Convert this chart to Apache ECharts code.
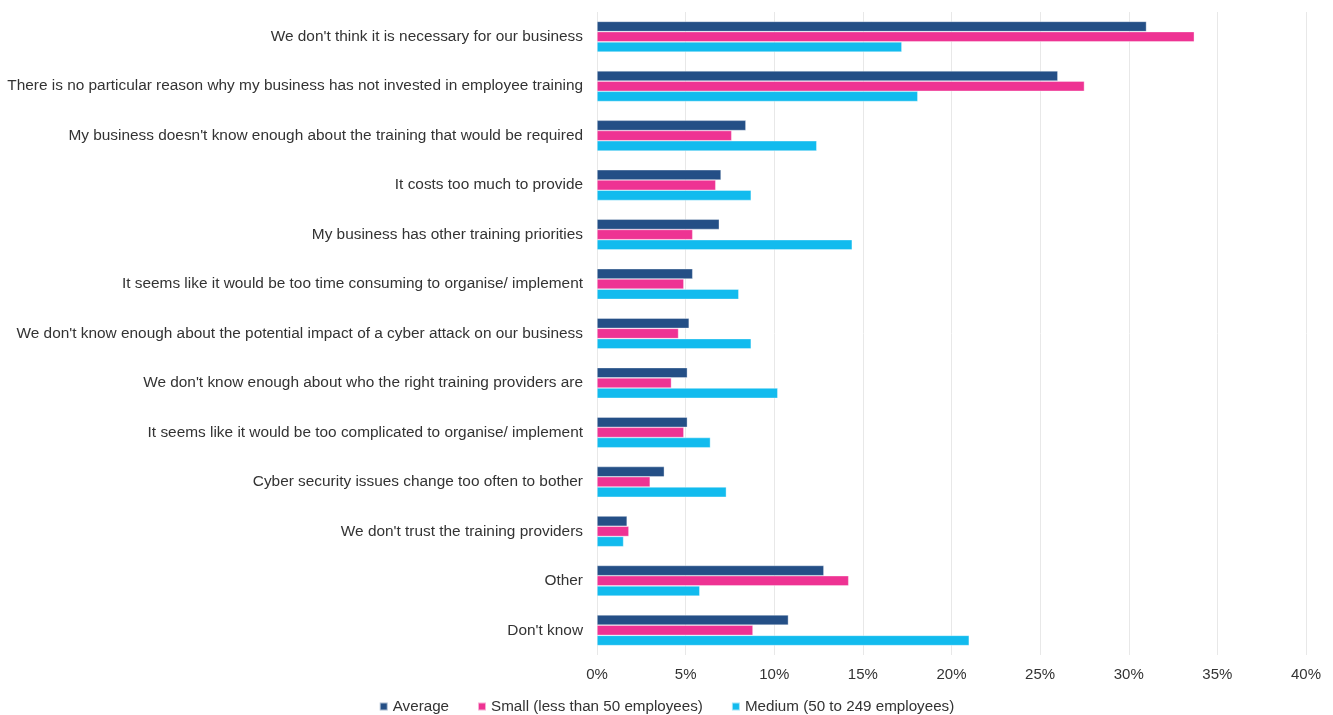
<!DOCTYPE html>
<html>
<head>
<meta charset="utf-8">
<script src="https://cdn.jsdelivr.net/npm/echarts@6/dist/echarts.min.js"></script>
<style>
  html, body { margin: 0; padding: 0; background: #fff; }
  #chart { width: 1333px; height: 715px; }
</style>
</head>
<body>
<div id="chart"></div>
<script>
// Reasons for not investing in cyber security training, by business size (% of businesses)
const categories = [
  "We don't think it is necessary for our business",
  "There is no particular reason why my business has not invested in employee training",
  "My business doesn't know enough about the training that would be required",
  "It costs too much to provide",
  "My business has other training priorities",
  "It seems like it would be too time consuming to organise/ implement",
  "We don't know enough about the potential impact of a cyber attack on our business",
  "We don't know enough about who the right training providers are",
  "It seems like it would be too complicated to organise/ implement",
  "Cyber security issues change too often to bother",
  "We don't trust the training providers",
  "Other",
  "Don't know"
];
const average = [31.0, 26.0, 8.4, 7.0, 6.9, 5.4, 5.2, 5.1, 5.1, 3.8, 1.7, 12.8, 10.8];
const small   = [33.7, 27.5, 7.6, 6.7, 5.4, 4.9, 4.6, 4.2, 4.9, 3.0, 1.8, 14.2, 8.8];
const medium  = [17.2, 18.1, 12.4, 8.7, 14.4, 8.0, 8.7, 10.2, 6.4, 7.3, 1.5, 5.8, 21.0];
const seriesNames = ["Average", "Small (less than 50 employees)", "Medium (50 to 249 employees)"];
const colors = ["#244F86", "#EE3393", "#12BBEE"];

const font = "'Liberation Sans', Arial, sans-serif";
const chart = echarts.init(document.getElementById('chart'));

function bar(name, data, color) {
  return {
    name: name,
    type: 'bar',
    data: data,
    barGap: '0%',
    barCategoryGap: '38%',
    itemStyle: { color: color, borderColor: 'rgba(255,255,255,0.6)', borderWidth: 0.6 }
  };
}

chart.setOption({
  animation: false,
  textStyle: { fontFamily: font },
  grid: { left: 597, right: 27, top: 12, bottom: 60, containLabel: false },
  legend: {
    top: 699,
    left: 'center',
    padding: [0, 5],
    itemWidth: 8,
    itemHeight: 8,
    itemGap: 28,
    icon: 'rect',
    textStyle: { fontSize: 15.2, color: '#333', fontFamily: font },
    data: seriesNames
  },
  xAxis: {
    type: 'value',
    min: 0,
    max: 40,
    interval: 5,
    axisLabel: { formatter: '{value}%', fontSize: 15, color: '#333', margin: 12 },
    axisLine: { show: false },
    axisTick: { show: false },
    splitLine: { show: true, lineStyle: { color: '#E8E8E8', width: 1 } }
  },
  yAxis: {
    type: 'category',
    data: categories,
    inverse: true,
    axisLine: { show: false },
    axisTick: { show: false },
    axisLabel: { fontSize: 15.4, color: '#333', margin: 14 }
  },
  series: [
    bar(seriesNames[0], average, colors[0]),
    bar(seriesNames[1], small, colors[1]),
    bar(seriesNames[2], medium, colors[2])
  ]
});
</script>
</body>
</html>
